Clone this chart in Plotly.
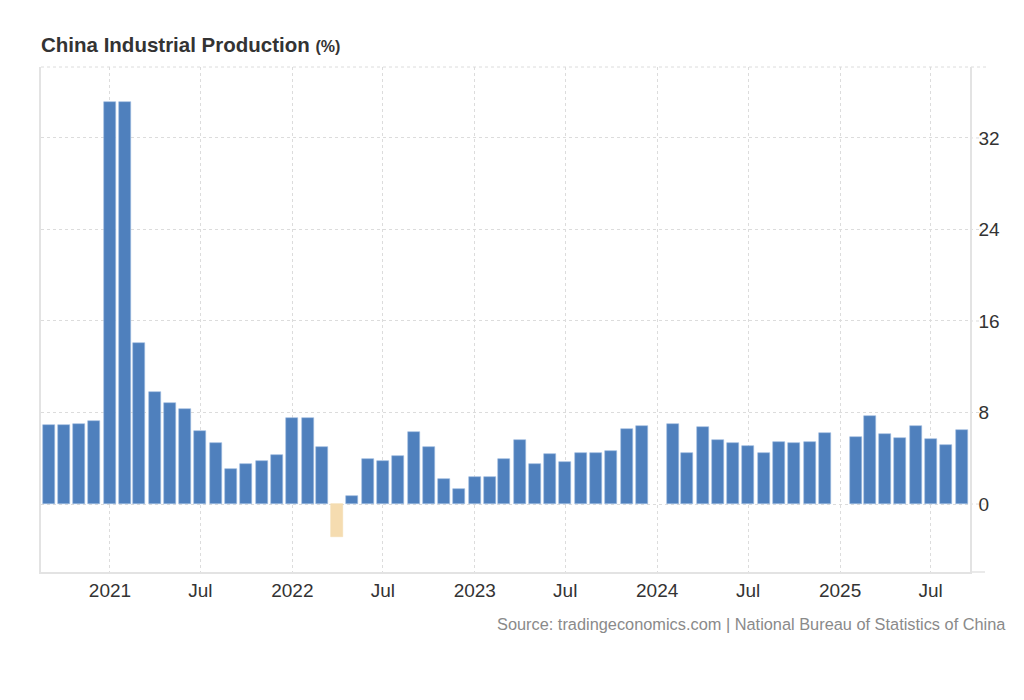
import plotly.graph_objects as go

# ---- data ----
months = [
    "2020-09", "2020-10", "2020-11", "2020-12",
    "2021-01", "2021-02", "2021-03", "2021-04", "2021-05", "2021-06",
    "2021-07", "2021-08", "2021-09", "2021-10", "2021-11", "2021-12",
    "2022-01", "2022-02", "2022-03", "2022-04", "2022-05", "2022-06",
    "2022-07", "2022-08", "2022-09", "2022-10", "2022-11", "2022-12",
    "2023-01", "2023-02", "2023-03", "2023-04", "2023-05", "2023-06",
    "2023-07", "2023-08", "2023-09", "2023-10", "2023-11", "2023-12",
    "2024-02", "2024-03", "2024-04", "2024-05", "2024-06",
    "2024-07", "2024-08", "2024-09", "2024-10", "2024-11", "2024-12",
    "2025-02", "2025-03", "2025-04", "2025-05", "2025-06",
    "2025-07", "2025-08", "2025-09",
]
values = [
    6.9, 6.9, 7.0, 7.3,
    35.1, 35.1, 14.1, 9.8, 8.8, 8.3,
    6.4, 5.3, 3.1, 3.5, 3.8, 4.3,
    7.5, 7.5, 5.0, -2.9, 0.7, 3.9,
    3.8, 4.2, 6.3, 5.0, 2.2, 1.3,
    2.4, 2.4, 3.9, 5.6, 3.5, 4.4,
    3.7, 4.5, 4.5, 4.6, 6.6, 6.8,
    7.0, 4.5, 6.7, 5.6, 5.3,
    5.1, 4.5, 5.4, 5.3, 5.4, 6.2,
    5.9, 7.7, 6.1, 5.8, 6.8,
    5.7, 5.2, 6.5,
]
tick_dates = ["2021-01-01", "2021-07-01", "2022-01-01", "2022-07-01",
              "2023-01-01", "2023-07-01", "2024-01-01", "2024-07-01",
              "2025-01-01", "2025-07-01"]
tick_labels = ["2021", "Jul", "2022", "Jul", "2023", "Jul", "2024", "Jul",
               "2025", "Jul"]
y_ticks = [0, 8, 16, 24, 32]

# ---- style ----
POS = "#4f80bd"
POS_EDGE = "#9dbbe0"
NEG = "#f5dcb0"
GRID = "#dcdcdc"
AXLINE = "#e3e3e3"
FONT = "Liberation Sans, Arial, sans-serif"

# page body has an 8px margin, so the figure is laid out 8px smaller
W, H = 1016, 692
PL, PR, PT, PB = 33, 962, 59, 564

dates = [m + "-01" for m in months]
colors = [POS if v >= 0 else NEG for v in values]
edges = [POS_EDGE if v >= 0 else NEG for v in values]

fig = go.Figure()
fig.add_trace(go.Bar(
    x=dates, y=values,
    marker=dict(color=colors, line=dict(width=0.6, color=edges)),
    width=24 * 86400000,
    hoverinfo="x+y",
))

pw = PR - PL
ph = PB - PT
ext = 1 + 18 / pw
shapes = []
for t in y_ticks:
    shapes.append(dict(type="line", xref="paper", yref="y", x0=1, x1=ext,
                       y0=t, y1=t, line=dict(color=GRID, width=1, dash="dot"),
                       layer="below"))
shapes.append(dict(type="line", xref="paper", yref="paper", x0=0, x1=ext,
                   y0=1, y1=1, line=dict(color=GRID, width=1, dash="dot"),
                   layer="below"))
shapes.append(dict(type="line", xref="paper", yref="paper", x0=1, x1=1 + 15 / pw,
                   y0=0, y1=0, line=dict(color=AXLINE, width=1.5)))

fig.update_layout(
    width=W, height=H,
    margin=dict(l=PL, r=W - PR, t=PT, b=H - PB),
    paper_bgcolor="white", plot_bgcolor="white",
    showlegend=False,
    bargap=0,
    font=dict(family=FONT, color="#333"),
    title=dict(
        text="<b>China Industrial Production</b> <span style='font-size:16px'><b>(%)</b></span>",
        x=PL / W, xanchor="left", xref="container",
        y=1 - 37 / H, yanchor="middle", yref="container",
        font=dict(family=FONT, size=20.5, color="#333"),
    ),
    xaxis=dict(
        type="date",
        range=["2020-08-16", "2025-09-18"],
        tickvals=tick_dates, ticktext=tick_labels,
        tickfont=dict(size=19, color="#333"),
        showgrid=True, gridcolor=GRID, griddash="dot", gridwidth=1,
        showline=True, linecolor=AXLINE, linewidth=1.5,
        ticks="", zeroline=False,
    ),
    yaxis=dict(
        side="right",
        range=[-5.94, 38.2],
        tickvals=y_ticks,
        tickfont=dict(size=19, color="#333"),
        showgrid=True, gridcolor=GRID, griddash="dot", gridwidth=1,
        showline=True, linecolor=AXLINE, linewidth=1.5, mirror=True,
        ticks="outside", ticklen=3, tickcolor="rgba(0,0,0,0)",
        zeroline=False,
    ),
    shapes=shapes,
    annotations=[dict(
        text="Source: tradingeconomics.com | National Bureau of Statistics of China",
        xref="paper", yref="paper", x=(1000 - PL) / pw, y=-52 / ph,
        xanchor="right", yanchor="middle", showarrow=False,
        font=dict(family=FONT, size=16.35, color="#8a8a8a"),
    )],
)

fig.write_html("out.html")
